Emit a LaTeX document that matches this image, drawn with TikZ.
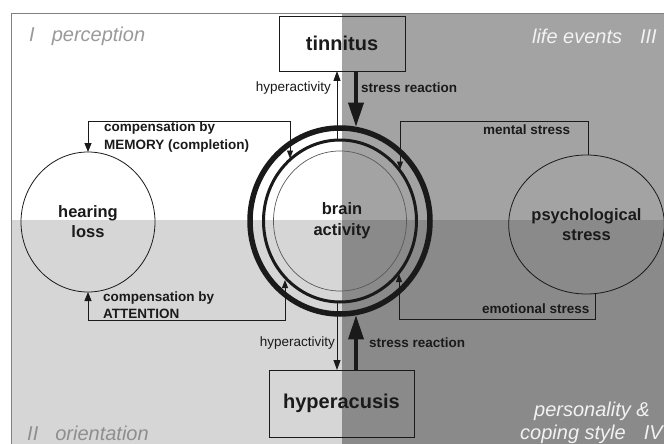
\documentclass[tikz,border=0pt]{standalone}
\usepackage{fontspec}
\setmainfont{Liberation Sans}
\usetikzlibrary{shapes.geometric,arrows.meta,calc}
\definecolor{qtr}{HTML}{A3A3A3}
\definecolor{qbl}{HTML}{D6D6D6}
\definecolor{qbr}{HTML}{8A8A8A}
\definecolor{ink}{HTML}{1A1A1A}
\definecolor{lblone}{HTML}{9A9A9A}
\definecolor{lbltwo}{HTML}{8E8E8E}
\definecolor{lblw}{HTML}{F2F2F2}
\definecolor{framec}{HTML}{808080}
\definecolor{thinring}{HTML}{5A5A5A}
\begin{document}
\begin{tikzpicture}[x=1pt,y=-1pt,
  boxnode/.style={draw=ink, line width=0.9pt, inner sep=0pt, outer sep=0pt, font=\fontsize{20}{24}\selectfont\bfseries, text=ink},
  circnode/.style={draw=ink, line width=0.8pt, ellipse, inner sep=0pt, outer sep=0pt, align=center, font=\fontsize{16.5}{20}\selectfont\bfseries, text=ink},
  ringnode/.style={ellipse, inner sep=0pt, outer sep=0pt},
  lab/.style={font=\fontsize{13.5}{17.5}\selectfont\bfseries, text=ink, inner sep=0pt, align=left},
  labn/.style={font=\fontsize{13.5}{17}\selectfont, text=ink, inner sep=0pt},
  quad/.style={font=\fontsize{20}{24}\selectfont\itshape, inner sep=0pt},
  conn/.style={draw=ink, line width=0.9pt},
  smalltip/.style={-{Triangle[width=6pt,length=8pt]}},
  bothtip/.style={{Triangle[width=7pt,length=9pt]}-{Triangle[width=6pt,length=8pt]}},
  hypertip/.style={-{Triangle[width=7pt,length=10pt]}},
  bigarrow/.style={draw=ink, line width=3.5pt, -{Triangle[width=15pt,length=24pt]}}
]
\useasboundingbox (0,0) rectangle (664,444);
\clip (0,0) rectangle (664,444);
% background quadrants
\fill[white] (0,0) rectangle (664,444);
\fill[qtr] (342,13) rectangle (670,220);
\fill[qbl] (11,220) rectangle (342,450);
\fill[qbr] (342,220) rectangle (670,450);
\draw[framec, line width=0.8pt] (670,13) -- (11,13) -- (11,450);

% quadrant labels
\node[quad, text=lblone, anchor=west] (qone) at (29,36) {I\hspace{17pt}perception};
\node[quad, text=lblw, anchor=east] (qthree) at (657,36) {life events\hspace{18pt}III};
\node[quad, text=lbltwo, anchor=west] (qtwo) at (27,433) {II\hspace{17pt}orientation};
\node[quad, text=lblw, anchor=east] (qfoura) at (650,411) {personality \&};
\node[quad, text=lblw, anchor=west] (qfourb) at (520,434) {coping style\hspace{18pt}IV};

% boxes
\node[boxnode, minimum width=126pt, minimum height=55pt] (tin) at (342,43.5) {tinnitus};
\node[boxnode, minimum width=145pt, minimum height=67pt] (hyp) at (341.5,403.5) {hyperacusis};

% side circles
\node[circnode, minimum width=134pt, minimum height=140pt] (hl) at (88,222) {hearing\\loss};
\node[circnode, minimum width=135pt, minimum height=139pt] (ps) at (586.5,224.5) {psychological\\stress};

% brain rings
\node[ringnode, draw=ink, line width=5.5pt, minimum width=180pt, minimum height=186pt] (ringa) at (340,221) {};
\node[ringnode, draw=ink, line width=3pt, minimum width=153pt, minimum height=162pt] (ringb) at (340,221) {};
\node[ringnode, draw=thinring, line width=0.7pt, minimum width=133pt, minimum height=140pt] (ringc) at (340,221) {};
\node[font=\fontsize{16.5}{21}\selectfont\bfseries, text=ink, align=center, inner sep=0pt] (brain) at (342,221) {brain\\activity};

% points on the rings
\coordinate (memring) at (290,158.5);
\coordinate (attring) at (285,280);
\coordinate (mentring) at (400,169.5);
\coordinate (emoring) at (399,274);
\coordinate (hyt) at (337,140);
\coordinate (hyb) at (337,302);
\coordinate (srt) at (356,126.7);
\coordinate (srb) at (356,315.3);
% corners
\coordinate (memc) at (290,121);
\coordinate (attc) at (285,320);
\coordinate (mentc) at (400,121);
\coordinate (emoc) at (399,319);

% feedback loops
\draw[conn, bothtip] (hl.north) |- (memc) -- (memring);
\draw[conn, bothtip] (hl.south) |- (attc) -- (attring);
\draw[conn, smalltip] (ps.88) |- (mentc) -- (mentring);
\draw[conn, smalltip] (ps.-83) |- (emoc) -- (emoring);

% vertical connections
\draw[conn, hypertip] (hyt) -- (hyt |- tin.south);
\draw[conn, hypertip] (hyb) -- (hyb |- hyp.north);
\draw[bigarrow] (srt |- tin.south) -- (srt);
\draw[bigarrow] (srb |- hyp.north) -- (srb);

% labels
\node[labn, anchor=east] (lhyt) at (331,88) {hyperactivity};
\node[lab, anchor=west] (lsrt) at (361,88) {stress reaction};
\node[labn, anchor=east] (lhyb) at (335,343) {hyperactivity};
\node[lab, anchor=west] (lsrb) at (369,343) {stress reaction};
\node[lab, anchor=west] (lmem) at (104,137) {compensation by\\MEMORY (completion)};
\node[lab, anchor=west] (latt) at (103,305) {compensation by\\ATTENTION};
\node[lab, anchor=west] (lment) at (483,130) {mental stress};
\node[lab, anchor=west] (lemo) at (482,309) {emotional stress};
\end{tikzpicture}
\end{document}
